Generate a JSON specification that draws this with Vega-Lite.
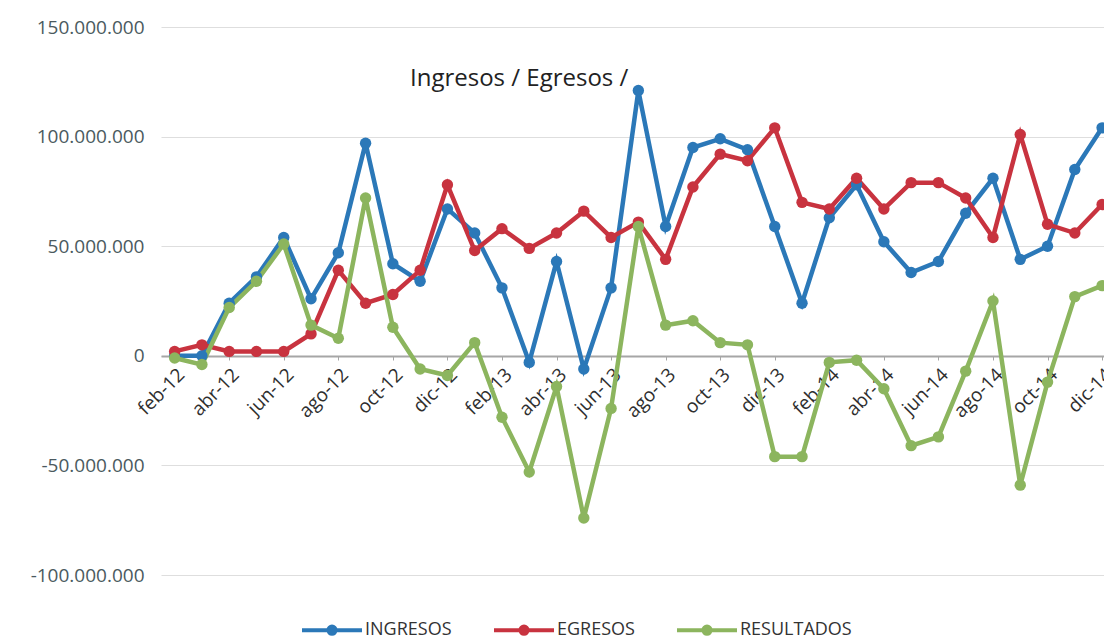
{
  "$schema": "https://vega.github.io/schema/vega-lite/v6.json",
  "width": 943,
  "height": 548,
  "autosize": {"type": "none"},
  "padding": {"left": 161, "top": 27, "right": 0, "bottom": 65},
  "background": "white",
  "config": {
    "font": "Open Sans",
    "view": {"stroke": null},
    "locale": {"number": {"decimal": ",", "thousands": ".", "grouping": [3], "currency": ["", ""], "minus": "-"}}
  },
  "title": {
    "text": "Ingresos / Egresos /",
    "anchor": "start",
    "frame": "group",
    "font": "Open Sans",
    "fontSize": 24,
    "fontWeight": "normal",
    "color": "#222222",
    "baseline": "top",
    "offset": 0,
    "dx": 249,
    "dy": 73
  },
  "data": {
    "values": [
      {"mes": "feb-12", "INGRESOS": 0, "EGRESOS": 2000000, "RESULTADOS": -1000000},
      {"mes": "mar-12", "INGRESOS": 0, "EGRESOS": 5000000, "RESULTADOS": -4000000},
      {"mes": "abr-12", "INGRESOS": 24000000, "EGRESOS": 2000000, "RESULTADOS": 22000000},
      {"mes": "may-12", "INGRESOS": 36000000, "EGRESOS": 2000000, "RESULTADOS": 34000000},
      {"mes": "jun-12", "INGRESOS": 54000000, "EGRESOS": 2000000, "RESULTADOS": 51000000},
      {"mes": "jul-12", "INGRESOS": 26000000, "EGRESOS": 10000000, "RESULTADOS": 14000000},
      {"mes": "ago-12", "INGRESOS": 47000000, "EGRESOS": 39000000, "RESULTADOS": 8000000},
      {"mes": "sep-12", "INGRESOS": 97000000, "EGRESOS": 24000000, "RESULTADOS": 72000000},
      {"mes": "oct-12", "INGRESOS": 42000000, "EGRESOS": 28000000, "RESULTADOS": 13000000},
      {"mes": "nov-12", "INGRESOS": 34000000, "EGRESOS": 39000000, "RESULTADOS": -6000000},
      {"mes": "dic-12", "INGRESOS": 67000000, "EGRESOS": 78000000, "RESULTADOS": -9000000},
      {"mes": "ene-13", "INGRESOS": 56000000, "EGRESOS": 48000000, "RESULTADOS": 6000000},
      {"mes": "feb-13", "INGRESOS": 31000000, "EGRESOS": 58000000, "RESULTADOS": -28000000},
      {"mes": "mar-13", "INGRESOS": -3000000, "EGRESOS": 49000000, "RESULTADOS": -53000000},
      {"mes": "abr-13", "INGRESOS": 43000000, "EGRESOS": 56000000, "RESULTADOS": -14000000},
      {"mes": "may-13", "INGRESOS": -6000000, "EGRESOS": 66000000, "RESULTADOS": -74000000},
      {"mes": "jun-13", "INGRESOS": 31000000, "EGRESOS": 54000000, "RESULTADOS": -24000000},
      {"mes": "jul-13", "INGRESOS": 121000000, "EGRESOS": 61000000, "RESULTADOS": 59000000},
      {"mes": "ago-13", "INGRESOS": 59000000, "EGRESOS": 44000000, "RESULTADOS": 14000000},
      {"mes": "sep-13", "INGRESOS": 95000000, "EGRESOS": 77000000, "RESULTADOS": 16000000},
      {"mes": "oct-13", "INGRESOS": 99000000, "EGRESOS": 92000000, "RESULTADOS": 6000000},
      {"mes": "nov-13", "INGRESOS": 94000000, "EGRESOS": 89000000, "RESULTADOS": 5000000},
      {"mes": "dic-13", "INGRESOS": 59000000, "EGRESOS": 104000000, "RESULTADOS": -46000000},
      {"mes": "ene-14", "INGRESOS": 24000000, "EGRESOS": 70000000, "RESULTADOS": -46000000},
      {"mes": "feb-14", "INGRESOS": 63000000, "EGRESOS": 67000000, "RESULTADOS": -3000000},
      {"mes": "mar-14", "INGRESOS": 78000000, "EGRESOS": 81000000, "RESULTADOS": -2000000},
      {"mes": "abr-14", "INGRESOS": 52000000, "EGRESOS": 67000000, "RESULTADOS": -15000000},
      {"mes": "may-14", "INGRESOS": 38000000, "EGRESOS": 79000000, "RESULTADOS": -41000000},
      {"mes": "jun-14", "INGRESOS": 43000000, "EGRESOS": 79000000, "RESULTADOS": -37000000},
      {"mes": "jul-14", "INGRESOS": 65000000, "EGRESOS": 72000000, "RESULTADOS": -7000000},
      {"mes": "ago-14", "INGRESOS": 81000000, "EGRESOS": 54000000, "RESULTADOS": 25000000},
      {"mes": "sep-14", "INGRESOS": 44000000, "EGRESOS": 101000000, "RESULTADOS": -59000000},
      {"mes": "oct-14", "INGRESOS": 50000000, "EGRESOS": 60000000, "RESULTADOS": -12000000},
      {"mes": "nov-14", "INGRESOS": 85000000, "EGRESOS": 56000000, "RESULTADOS": 27000000},
      {"mes": "dic-14", "INGRESOS": 104000000, "EGRESOS": 69000000, "RESULTADOS": 32000000}
    ]
  },
  "transform": [
    {"fold": ["INGRESOS", "EGRESOS", "RESULTADOS"], "as": ["serie", "valor"]}
  ],
  "encoding": {
    "x": {
      "field": "mes",
      "type": "ordinal",
      "sort": null,
      "title": null,
      "scale": {"type": "point", "padding": 0.285, "align": 0.877},
      "axis": {
        "values": ["feb-12", "abr-12", "jun-12", "ago-12", "oct-12", "dic-12", "feb-13", "abr-13", "jun-13", "ago-13", "oct-13", "dic-13", "feb-14", "abr-14", "jun-14", "ago-14", "oct-14", "dic-14"],
        "offset": -219,
        "labelAngle": -45,
        "labelAlign": "right",
        "labelBaseline": "top",
        "labelPadding": 5,
        "labelFontSize": 19,
        "labelColor": "#2e2e2e",
        "labelFont": "Open Sans",
        "domainColor": "#a6a6a6",
        "domainWidth": 2,
        "ticks": true,
        "tickColor": "#a6a6a6",
        "tickSize": 4,
        "grid": false,
        "labelOverlap": false
      }
    },
    "y": {
      "field": "valor",
      "type": "quantitative",
      "title": null,
      "scale": {"domain": [-100000000, 150000000], "nice": false, "zero": false},
      "axis": {
        "values": [-100000000, -50000000, 0, 50000000, 100000000, 150000000],
        "format": ",d",
        "labelFontSize": 19,
        "labelColor": "#4b5a60",
        "labelFont": "Open Sans",
        "labelPadding": 17,
        "domain": false,
        "ticks": false,
        "grid": true,
        "gridColor": "#dedede",
        "gridWidth": 1.2
      }
    },
    "color": {
      "field": "serie",
      "type": "nominal",
      "scale": {"domain": ["INGRESOS", "EGRESOS", "RESULTADOS"], "range": ["#2b78b8", "#c8333f", "#8cb55e"]},
      "legend": {
        "title": null,
        "orient": "none",
        "direction": "horizontal",
        "legendX": 139,
        "legendY": 571,
        "symbolType": "M-1,0L1,0M-0.12,0A0.12,0.12,0,1,1,0.12,0A0.12,0.12,0,1,1,-0.12,0",
        "symbolSize": 3600,
        "symbolStrokeWidth": 4,
        "labelFontSize": 18,
        "labelColor": "#333333",
        "labelFont": "Open Sans",
        "labelOffset": 1,
        "columnPadding": 34
      }
    }
  },
  "layer": [
    {"mark": {"type": "line", "strokeWidth": 4.5}},
    {"mark": {"type": "point", "filled": true, "size": 130, "opacity": 1}}
  ]
}
